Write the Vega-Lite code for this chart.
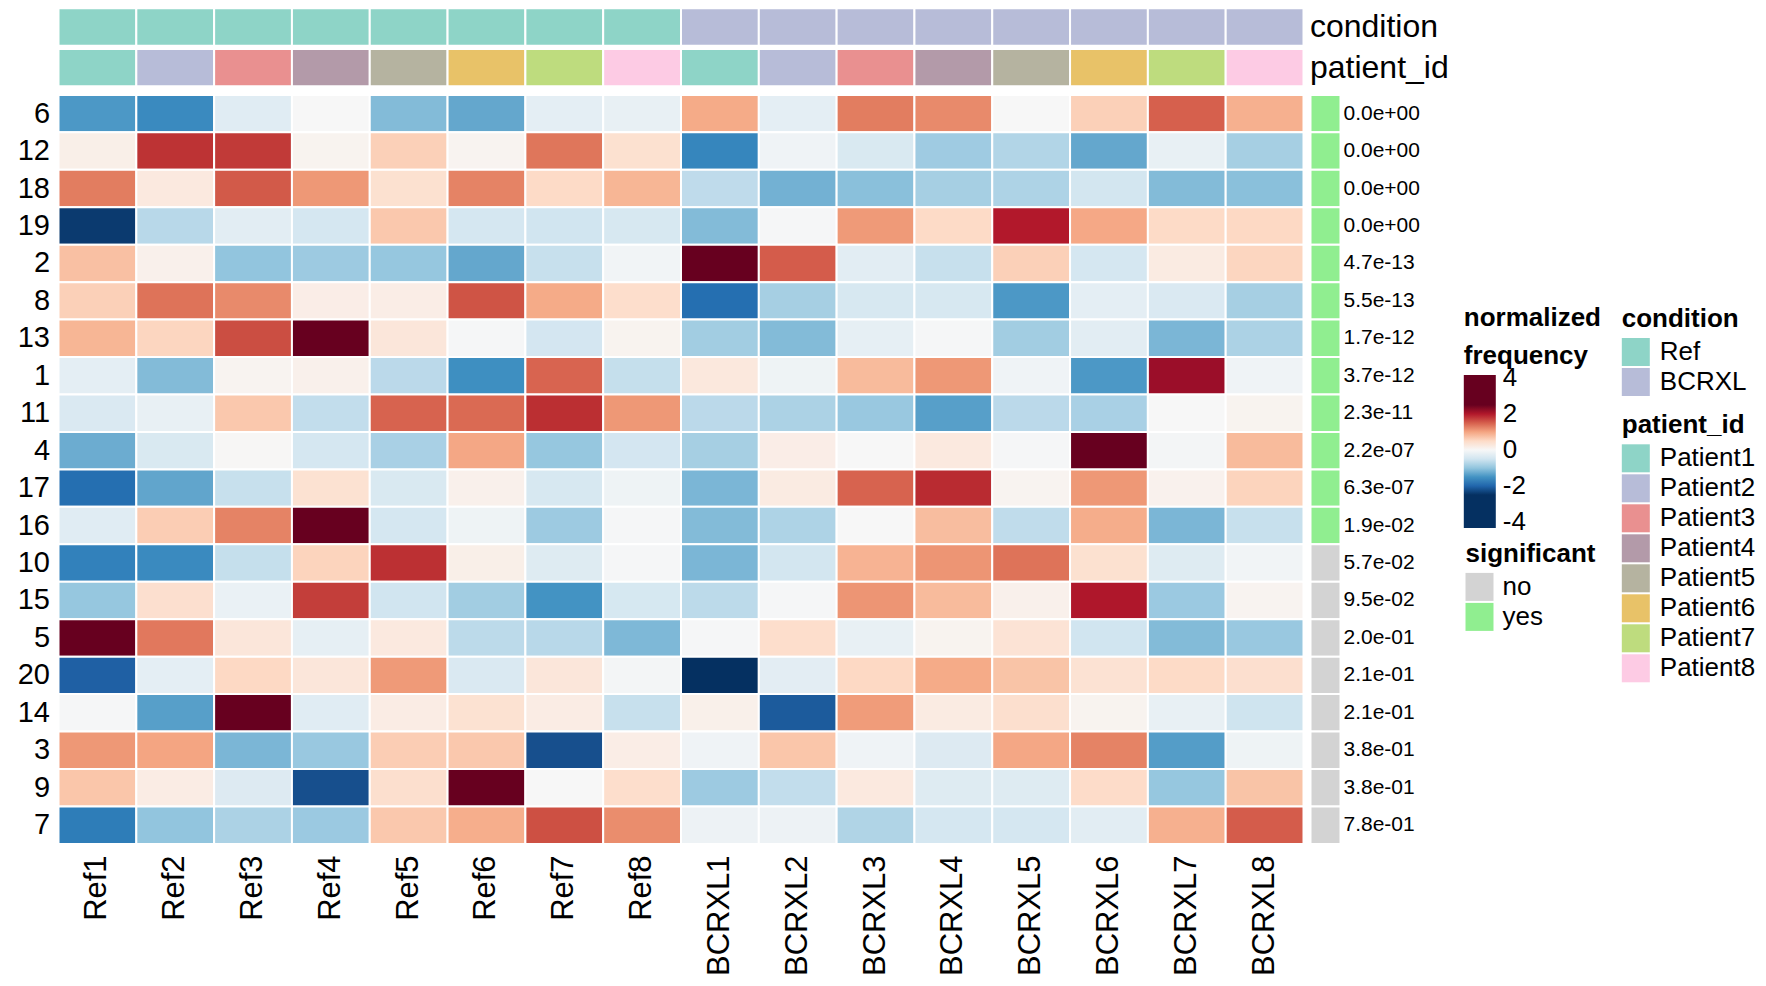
{
  "$schema": "https://vega.github.io/schema/vega-lite/v6.json",
  "background": "white",
  "padding": {"left": 16.5, "top": 7.3, "right": 5, "bottom": 5},
  "config": {
    "font": "Liberation Sans",
    "view": {"stroke": null},
    "axis": {"domain": false, "ticks": false, "tickSize": 0, "grid": false, "labelColor": "#000000", "labelFont": "Liberation Sans"},
    "legend": {
      "titleFontSize": 26, "titleFontWeight": "bold", "titleColor": "#000000", "titleFont": "Liberation Sans",
      "labelFontSize": 26, "labelColor": "#000000", "labelFont": "Liberation Sans",
      "padding": 0, "titlePadding": 6, "symbolType": "square", "symbolSize": 784, "symbolStrokeWidth": 0,
      "symbolOpacity": 1, "labelOffset": 10, "rowPadding": 2, "labelLimit": 400, "titleLimit": 400
    }
  },
  "datasets": {
    "heat": [
      {"r":"6","s":"Ref1","v":-1.45},{"r":"6","s":"Ref2","v":-1.6},{"r":"6","s":"Ref3","v":-0.3},{"r":"6","s":"Ref4","v":0},{"r":"6","s":"Ref5","v":-1.1},{"r":"6","s":"Ref6","v":-1.3},{"r":"6","s":"Ref7","v":-0.25},{"r":"6","s":"Ref8","v":-0.2},{"r":"6","s":"BCRXL1","v":0.95},{"r":"6","s":"BCRXL2","v":-0.25},{"r":"6","s":"BCRXL3","v":1.3},{"r":"6","s":"BCRXL4","v":1.2},{"r":"6","s":"BCRXL5","v":0},{"r":"6","s":"BCRXL6","v":0.6},{"r":"6","s":"BCRXL7","v":1.5},{"r":"6","s":"BCRXL8","v":0.9},
      {"r":"12","s":"Ref1","v":0.15},{"r":"12","s":"Ref2","v":1.85},{"r":"12","s":"Ref3","v":1.8},{"r":"12","s":"Ref4","v":0.08},{"r":"12","s":"Ref5","v":0.6},{"r":"12","s":"Ref6","v":0.07},{"r":"12","s":"Ref7","v":1.35},{"r":"12","s":"Ref8","v":0.4},{"r":"12","s":"BCRXL1","v":-1.65},{"r":"12","s":"BCRXL2","v":-0.1},{"r":"12","s":"BCRXL3","v":-0.4},{"r":"12","s":"BCRXL4","v":-0.9},{"r":"12","s":"BCRXL5","v":-0.75},{"r":"12","s":"BCRXL6","v":-1.3},{"r":"12","s":"BCRXL7","v":-0.2},{"r":"12","s":"BCRXL8","v":-0.85},
      {"r":"18","s":"Ref1","v":1.3},{"r":"18","s":"Ref2","v":0.25},{"r":"18","s":"Ref3","v":1.55},{"r":"18","s":"Ref4","v":1.1},{"r":"18","s":"Ref5","v":0.4},{"r":"18","s":"Ref6","v":1.25},{"r":"18","s":"Ref7","v":0.5},{"r":"18","s":"Ref8","v":0.85},{"r":"18","s":"BCRXL1","v":-0.65},{"r":"18","s":"BCRXL2","v":-1.2},{"r":"18","s":"BCRXL3","v":-1.05},{"r":"18","s":"BCRXL4","v":-0.85},{"r":"18","s":"BCRXL5","v":-0.78},{"r":"18","s":"BCRXL6","v":-0.48},{"r":"18","s":"BCRXL7","v":-1.1},{"r":"18","s":"BCRXL8","v":-1.05},
      {"r":"19","s":"Ref1","v":-2.4},{"r":"19","s":"Ref2","v":-0.7},{"r":"19","s":"Ref3","v":-0.28},{"r":"19","s":"Ref4","v":-0.45},{"r":"19","s":"Ref5","v":0.68},{"r":"19","s":"Ref6","v":-0.45},{"r":"19","s":"Ref7","v":-0.5},{"r":"19","s":"Ref8","v":-0.42},{"r":"19","s":"BCRXL1","v":-1.1},{"r":"19","s":"BCRXL2","v":-0.02},{"r":"19","s":"BCRXL3","v":1.08},{"r":"19","s":"BCRXL4","v":0.5},{"r":"19","s":"BCRXL5","v":2.0},{"r":"19","s":"BCRXL6","v":0.97},{"r":"19","s":"BCRXL7","v":0.5},{"r":"19","s":"BCRXL8","v":0.52},
      {"r":"2","s":"Ref1","v":0.75},{"r":"2","s":"Ref2","v":0.12},{"r":"2","s":"Ref3","v":-1.0},{"r":"2","s":"Ref4","v":-0.92},{"r":"2","s":"Ref5","v":-0.97},{"r":"2","s":"Ref6","v":-1.3},{"r":"2","s":"Ref7","v":-0.58},{"r":"2","s":"Ref8","v":-0.08},{"r":"2","s":"BCRXL1","v":2.6},{"r":"2","s":"BCRXL2","v":1.53},{"r":"2","s":"BCRXL3","v":-0.28},{"r":"2","s":"BCRXL4","v":-0.58},{"r":"2","s":"BCRXL5","v":0.6},{"r":"2","s":"BCRXL6","v":-0.45},{"r":"2","s":"BCRXL7","v":0.22},{"r":"2","s":"BCRXL8","v":0.55},
      {"r":"8","s":"Ref1","v":0.6},{"r":"8","s":"Ref2","v":1.37},{"r":"8","s":"Ref3","v":1.2},{"r":"8","s":"Ref4","v":0.17},{"r":"8","s":"Ref5","v":0.18},{"r":"8","s":"Ref6","v":1.6},{"r":"8","s":"Ref7","v":0.95},{"r":"8","s":"Ref8","v":0.45},{"r":"8","s":"BCRXL1","v":-1.9},{"r":"8","s":"BCRXL2","v":-0.85},{"r":"8","s":"BCRXL3","v":-0.42},{"r":"8","s":"BCRXL4","v":-0.42},{"r":"8","s":"BCRXL5","v":-1.45},{"r":"8","s":"BCRXL6","v":-0.25},{"r":"8","s":"BCRXL7","v":-0.38},{"r":"8","s":"BCRXL8","v":-0.85},
      {"r":"13","s":"Ref1","v":0.85},{"r":"13","s":"Ref2","v":0.55},{"r":"13","s":"Ref3","v":1.65},{"r":"13","s":"Ref4","v":2.6},{"r":"13","s":"Ref5","v":0.3},{"r":"13","s":"Ref6","v":-0.03},{"r":"13","s":"Ref7","v":-0.46},{"r":"13","s":"Ref8","v":0.08},{"r":"13","s":"BCRXL1","v":-0.88},{"r":"13","s":"BCRXL2","v":-1.1},{"r":"13","s":"BCRXL3","v":-0.22},{"r":"13","s":"BCRXL4","v":-0.02},{"r":"13","s":"BCRXL5","v":-0.88},{"r":"13","s":"BCRXL6","v":-0.28},{"r":"13","s":"BCRXL7","v":-1.15},{"r":"13","s":"BCRXL8","v":-0.8},
      {"r":"1","s":"Ref1","v":-0.25},{"r":"1","s":"Ref2","v":-1.1},{"r":"1","s":"Ref3","v":0.07},{"r":"1","s":"Ref4","v":0.12},{"r":"1","s":"Ref5","v":-0.68},{"r":"1","s":"Ref6","v":-1.55},{"r":"1","s":"Ref7","v":1.47},{"r":"1","s":"Ref8","v":-0.6},{"r":"1","s":"BCRXL1","v":0.27},{"r":"1","s":"BCRXL2","v":-0.12},{"r":"1","s":"BCRXL3","v":0.8},{"r":"1","s":"BCRXL4","v":1.1},{"r":"1","s":"BCRXL5","v":-0.1},{"r":"1","s":"BCRXL6","v":-1.45},{"r":"1","s":"BCRXL7","v":2.15},{"r":"1","s":"BCRXL8","v":-0.1},
      {"r":"11","s":"Ref1","v":-0.38},{"r":"11","s":"Ref2","v":-0.2},{"r":"11","s":"Ref3","v":0.68},{"r":"11","s":"Ref4","v":-0.62},{"r":"11","s":"Ref5","v":1.48},{"r":"11","s":"Ref6","v":1.43},{"r":"11","s":"Ref7","v":1.88},{"r":"11","s":"Ref8","v":1.1},{"r":"11","s":"BCRXL1","v":-0.68},{"r":"11","s":"BCRXL2","v":-0.8},{"r":"11","s":"BCRXL3","v":-0.95},{"r":"11","s":"BCRXL4","v":-1.38},{"r":"11","s":"BCRXL5","v":-0.68},{"r":"11","s":"BCRXL6","v":-0.82},{"r":"11","s":"BCRXL7","v":0},{"r":"11","s":"BCRXL8","v":0.08},
      {"r":"4","s":"Ref1","v":-1.25},{"r":"4","s":"Ref2","v":-0.4},{"r":"4","s":"Ref3","v":0.02},{"r":"4","s":"Ref4","v":-0.45},{"r":"4","s":"Ref5","v":-0.82},{"r":"4","s":"Ref6","v":0.98},{"r":"4","s":"Ref7","v":-0.97},{"r":"4","s":"Ref8","v":-0.46},{"r":"4","s":"BCRXL1","v":-0.85},{"r":"4","s":"BCRXL2","v":0.17},{"r":"4","s":"BCRXL3","v":0},{"r":"4","s":"BCRXL4","v":0.25},{"r":"4","s":"BCRXL5","v":-0.02},{"r":"4","s":"BCRXL6","v":2.8},{"r":"4","s":"BCRXL7","v":-0.05},{"r":"4","s":"BCRXL8","v":0.8},
      {"r":"17","s":"Ref1","v":-1.9},{"r":"17","s":"Ref2","v":-1.32},{"r":"17","s":"Ref3","v":-0.58},{"r":"17","s":"Ref4","v":0.38},{"r":"17","s":"Ref5","v":-0.4},{"r":"17","s":"Ref6","v":0.12},{"r":"17","s":"Ref7","v":-0.42},{"r":"17","s":"Ref8","v":-0.12},{"r":"17","s":"BCRXL1","v":-1.15},{"r":"17","s":"BCRXL2","v":0.22},{"r":"17","s":"BCRXL3","v":1.48},{"r":"17","s":"BCRXL4","v":1.9},{"r":"17","s":"BCRXL5","v":0.07},{"r":"17","s":"BCRXL6","v":1.1},{"r":"17","s":"BCRXL7","v":0.1},{"r":"17","s":"BCRXL8","v":0.57},
      {"r":"16","s":"Ref1","v":-0.3},{"r":"16","s":"Ref2","v":0.63},{"r":"16","s":"Ref3","v":1.25},{"r":"16","s":"Ref4","v":2.8},{"r":"16","s":"Ref5","v":-0.45},{"r":"16","s":"Ref6","v":-0.12},{"r":"16","s":"Ref7","v":-0.92},{"r":"16","s":"Ref8","v":-0.03},{"r":"16","s":"BCRXL1","v":-1.1},{"r":"16","s":"BCRXL2","v":-0.78},{"r":"16","s":"BCRXL3","v":0},{"r":"16","s":"BCRXL4","v":0.78},{"r":"16","s":"BCRXL5","v":-0.64},{"r":"16","s":"BCRXL6","v":0.93},{"r":"16","s":"BCRXL7","v":-1.15},{"r":"16","s":"BCRXL8","v":-0.58},
      {"r":"10","s":"Ref1","v":-1.7},{"r":"10","s":"Ref2","v":-1.6},{"r":"10","s":"Ref3","v":-0.6},{"r":"10","s":"Ref4","v":0.57},{"r":"10","s":"Ref5","v":1.87},{"r":"10","s":"Ref6","v":0.15},{"r":"10","s":"Ref7","v":-0.33},{"r":"10","s":"Ref8","v":-0.03},{"r":"10","s":"BCRXL1","v":-1.15},{"r":"10","s":"BCRXL2","v":-0.47},{"r":"10","s":"BCRXL3","v":0.87},{"r":"10","s":"BCRXL4","v":1.12},{"r":"10","s":"BCRXL5","v":1.37},{"r":"10","s":"BCRXL6","v":0.4},{"r":"10","s":"BCRXL7","v":-0.33},{"r":"10","s":"BCRXL8","v":-0.08},
      {"r":"15","s":"Ref1","v":-0.97},{"r":"15","s":"Ref2","v":0.42},{"r":"15","s":"Ref3","v":-0.17},{"r":"15","s":"Ref4","v":1.77},{"r":"15","s":"Ref5","v":-0.5},{"r":"15","s":"Ref6","v":-0.88},{"r":"15","s":"Ref7","v":-1.5},{"r":"15","s":"Ref8","v":-0.43},{"r":"15","s":"BCRXL1","v":-0.67},{"r":"15","s":"BCRXL2","v":-0.03},{"r":"15","s":"BCRXL3","v":1.12},{"r":"15","s":"BCRXL4","v":0.8},{"r":"15","s":"BCRXL5","v":0.12},{"r":"15","s":"BCRXL6","v":2.02},{"r":"15","s":"BCRXL7","v":-0.93},{"r":"15","s":"BCRXL8","v":0.07},
      {"r":"5","s":"Ref1","v":2.8},{"r":"5","s":"Ref2","v":1.33},{"r":"5","s":"Ref3","v":0.3},{"r":"5","s":"Ref4","v":-0.22},{"r":"5","s":"Ref5","v":0.25},{"r":"5","s":"Ref6","v":-0.67},{"r":"5","s":"Ref7","v":-0.7},{"r":"5","s":"Ref8","v":-1.13},{"r":"5","s":"BCRXL1","v":-0.03},{"r":"5","s":"BCRXL2","v":0.45},{"r":"5","s":"BCRXL3","v":-0.2},{"r":"5","s":"BCRXL4","v":0.08},{"r":"5","s":"BCRXL5","v":0.35},{"r":"5","s":"BCRXL6","v":-0.5},{"r":"5","s":"BCRXL7","v":-1.1},{"r":"5","s":"BCRXL8","v":-0.95},
      {"r":"20","s":"Ref1","v":-2.05},{"r":"20","s":"Ref2","v":-0.25},{"r":"20","s":"Ref3","v":0.52},{"r":"20","s":"Ref4","v":0.3},{"r":"20","s":"Ref5","v":1.08},{"r":"20","s":"Ref6","v":-0.38},{"r":"20","s":"Ref7","v":0.3},{"r":"20","s":"Ref8","v":-0.05},{"r":"20","s":"BCRXL1","v":-2.8},{"r":"20","s":"BCRXL2","v":-0.27},{"r":"20","s":"BCRXL3","v":0.52},{"r":"20","s":"BCRXL4","v":0.95},{"r":"20","s":"BCRXL5","v":0.72},{"r":"20","s":"BCRXL6","v":0.37},{"r":"20","s":"BCRXL7","v":0.5},{"r":"20","s":"BCRXL8","v":0.42},
      {"r":"14","s":"Ref1","v":-0.03},{"r":"14","s":"Ref2","v":-1.38},{"r":"14","s":"Ref3","v":2.8},{"r":"14","s":"Ref4","v":-0.3},{"r":"14","s":"Ref5","v":0.2},{"r":"14","s":"Ref6","v":0.38},{"r":"14","s":"Ref7","v":0.2},{"r":"14","s":"Ref8","v":-0.58},{"r":"14","s":"BCRXL1","v":0.13},{"r":"14","s":"BCRXL2","v":-2.1},{"r":"14","s":"BCRXL3","v":1.07},{"r":"14","s":"BCRXL4","v":0.22},{"r":"14","s":"BCRXL5","v":0.43},{"r":"14","s":"BCRXL6","v":0.08},{"r":"14","s":"BCRXL7","v":-0.2},{"r":"14","s":"BCRXL8","v":-0.52},
      {"r":"3","s":"Ref1","v":1.1},{"r":"3","s":"Ref2","v":1.0},{"r":"3","s":"Ref3","v":-1.15},{"r":"3","s":"Ref4","v":-0.95},{"r":"3","s":"Ref5","v":0.63},{"r":"3","s":"Ref6","v":0.68},{"r":"3","s":"Ref7","v":-2.2},{"r":"3","s":"Ref8","v":0.18},{"r":"3","s":"BCRXL1","v":-0.1},{"r":"3","s":"BCRXL2","v":0.7},{"r":"3","s":"BCRXL3","v":-0.1},{"r":"3","s":"BCRXL4","v":-0.35},{"r":"3","s":"BCRXL5","v":0.98},{"r":"3","s":"BCRXL6","v":1.25},{"r":"3","s":"BCRXL7","v":-1.4},{"r":"3","s":"BCRXL8","v":-0.12},
      {"r":"9","s":"Ref1","v":0.7},{"r":"9","s":"Ref2","v":0.2},{"r":"9","s":"Ref3","v":-0.35},{"r":"9","s":"Ref4","v":-2.2},{"r":"9","s":"Ref5","v":0.43},{"r":"9","s":"Ref6","v":2.6},{"r":"9","s":"Ref7","v":0},{"r":"9","s":"Ref8","v":0.45},{"r":"9","s":"BCRXL1","v":-0.92},{"r":"9","s":"BCRXL2","v":-0.62},{"r":"9","s":"BCRXL3","v":0.25},{"r":"9","s":"BCRXL4","v":-0.33},{"r":"9","s":"BCRXL5","v":-0.33},{"r":"9","s":"BCRXL6","v":0.48},{"r":"9","s":"BCRXL7","v":-0.97},{"r":"9","s":"BCRXL8","v":0.72},
      {"r":"7","s":"Ref1","v":-1.75},{"r":"7","s":"Ref2","v":-1.0},{"r":"7","s":"Ref3","v":-0.8},{"r":"7","s":"Ref4","v":-0.93},{"r":"7","s":"Ref5","v":0.68},{"r":"7","s":"Ref6","v":0.92},{"r":"7","s":"Ref7","v":1.63},{"r":"7","s":"Ref8","v":1.18},{"r":"7","s":"BCRXL1","v":-0.13},{"r":"7","s":"BCRXL2","v":-0.13},{"r":"7","s":"BCRXL3","v":-0.77},{"r":"7","s":"BCRXL4","v":-0.45},{"r":"7","s":"BCRXL5","v":-0.45},{"r":"7","s":"BCRXL6","v":-0.28},{"r":"7","s":"BCRXL7","v":0.9},{"r":"7","s":"BCRXL8","v":1.53}
    ],
    "annot": [
      {"s":"Ref1","condition":"Ref","patient_id":"Patient1"},
      {"s":"Ref2","condition":"Ref","patient_id":"Patient2"},
      {"s":"Ref3","condition":"Ref","patient_id":"Patient3"},
      {"s":"Ref4","condition":"Ref","patient_id":"Patient4"},
      {"s":"Ref5","condition":"Ref","patient_id":"Patient5"},
      {"s":"Ref6","condition":"Ref","patient_id":"Patient6"},
      {"s":"Ref7","condition":"Ref","patient_id":"Patient7"},
      {"s":"Ref8","condition":"Ref","patient_id":"Patient8"},
      {"s":"BCRXL1","condition":"BCRXL","patient_id":"Patient1"},
      {"s":"BCRXL2","condition":"BCRXL","patient_id":"Patient2"},
      {"s":"BCRXL3","condition":"BCRXL","patient_id":"Patient3"},
      {"s":"BCRXL4","condition":"BCRXL","patient_id":"Patient4"},
      {"s":"BCRXL5","condition":"BCRXL","patient_id":"Patient5"},
      {"s":"BCRXL6","condition":"BCRXL","patient_id":"Patient6"},
      {"s":"BCRXL7","condition":"BCRXL","patient_id":"Patient7"},
      {"s":"BCRXL8","condition":"BCRXL","patient_id":"Patient8"}
    ],
    "sig": [
      {"r":"6","k":"sig","p":"0.0e+00","significant":"yes"},
      {"r":"12","k":"sig","p":"0.0e+00","significant":"yes"},
      {"r":"18","k":"sig","p":"0.0e+00","significant":"yes"},
      {"r":"19","k":"sig","p":"0.0e+00","significant":"yes"},
      {"r":"2","k":"sig","p":"4.7e-13","significant":"yes"},
      {"r":"8","k":"sig","p":"5.5e-13","significant":"yes"},
      {"r":"13","k":"sig","p":"1.7e-12","significant":"yes"},
      {"r":"1","k":"sig","p":"3.7e-12","significant":"yes"},
      {"r":"11","k":"sig","p":"2.3e-11","significant":"yes"},
      {"r":"4","k":"sig","p":"2.2e-07","significant":"yes"},
      {"r":"17","k":"sig","p":"6.3e-07","significant":"yes"},
      {"r":"16","k":"sig","p":"1.9e-02","significant":"yes"},
      {"r":"10","k":"sig","p":"5.7e-02","significant":"no"},
      {"r":"15","k":"sig","p":"9.5e-02","significant":"no"},
      {"r":"5","k":"sig","p":"2.0e-01","significant":"no"},
      {"r":"20","k":"sig","p":"2.1e-01","significant":"no"},
      {"r":"14","k":"sig","p":"2.1e-01","significant":"no"},
      {"r":"3","k":"sig","p":"3.8e-01","significant":"no"},
      {"r":"9","k":"sig","p":"3.8e-01","significant":"no"},
      {"r":"7","k":"sig","p":"7.8e-01","significant":"no"}
    ]
  },
  "columns": 2,
  "spacing": {"row": 8.6, "column": 7},
  "bounds": "flush",
  "align": "each",
  "resolve": {
    "scale": {"x": "independent", "y": "independent", "color": "independent"},
    "legend": {"color": "independent"}
  },
  "concat": [
    {
      "width": 1245,
      "height": 78,
      "data": {"name": "annot"},
      "layer": [
        {
          "mark": {"type": "rect", "stroke": "white", "strokeWidth": 2},
          "encoding": {
            "x": {"field": "s", "type": "nominal", "sort": ["Ref1","Ref2","Ref3","Ref4","Ref5","Ref6","Ref7","Ref8","BCRXL1","BCRXL2","BCRXL3","BCRXL4","BCRXL5","BCRXL6","BCRXL7","BCRXL8"], "scale": {"paddingInner": 0, "paddingOuter": 0}, "axis": null},
            "y": {"datum": "condition", "type": "nominal", "scale": {"domain": ["condition", "patient_id"], "paddingInner": 0.08, "paddingOuter": 0}, "axis": {"orient": "right", "title": null, "labelFontSize": 32, "labelPadding": 6, "labelColor": "#000000"}},
            "color": {"field": "condition", "type": "nominal", "scale": {"domain": ["Ref", "BCRXL"], "range": ["#8ED4C7", "#B7BCD8"]}, "legend": {"title": "condition", "orient": "none", "legendX": 1563.3, "legendY": 297.7}}
          }
        },
        {
          "mark": {"type": "rect", "stroke": "white", "strokeWidth": 2},
          "encoding": {
            "x": {"field": "s", "type": "nominal", "sort": ["Ref1","Ref2","Ref3","Ref4","Ref5","Ref6","Ref7","Ref8","BCRXL1","BCRXL2","BCRXL3","BCRXL4","BCRXL5","BCRXL6","BCRXL7","BCRXL8"], "axis": null},
            "y": {"datum": "patient_id", "type": "nominal"},
            "color": {"field": "patient_id", "type": "nominal", "scale": {"domain": ["Patient1","Patient2","Patient3","Patient4","Patient5","Patient6","Patient7","Patient8"], "range": ["#8ED4C7","#B7BCD8","#E99090","#B39AA9","#B5B3A0","#E8C268","#BEDC7E","#FDCBE4"]}, "legend": {"title": "patient_id", "orient": "none", "legendX": 1563.3, "legendY": 404}}
          }
        }
      ],
      "resolve": {"scale": {"color": "independent"}, "legend": {"color": "independent"}}
    },
    {
      "width": 30,
      "height": 10,
      "data": {"values": [{"a": 1}]},
      "mark": {"type": "point", "opacity": 0},
      "encoding": {}
    },
    {
      "width": 1245,
      "height": 749,
      "data": {"name": "heat"},
      "mark": {"type": "rect", "stroke": "white", "strokeWidth": 2},
      "encoding": {
        "x": {"field": "s", "type": "nominal", "sort": ["Ref1","Ref2","Ref3","Ref4","Ref5","Ref6","Ref7","Ref8","BCRXL1","BCRXL2","BCRXL3","BCRXL4","BCRXL5","BCRXL6","BCRXL7","BCRXL8"], "scale": {"paddingInner": 0, "paddingOuter": 0}, "axis": {"orient": "bottom", "title": null, "labelAngle": -90, "labelFontSize": 31, "labelPadding": 11}},
        "y": {"field": "r", "type": "nominal", "sort": ["6","12","18","19","2","8","13","1","11","4","17","16","10","15","5","20","14","3","9","7"], "scale": {"paddingInner": 0, "paddingOuter": 0}, "axis": {"title": null, "labelFontSize": 29, "labelPadding": 9, "labelAngle": 0}},
        "color": {
          "field": "v", "type": "quantitative",
          "scale": {"domain": [-4.33, -2.5, -2, -1.5, -1, -0.5, 0, 0.5, 1, 1.5, 2, 2.5, 4.17], "range": ["#053061","#053061","#2166ac","#4393c3","#92c5de","#d1e5f0","#f7f7f7","#fddbc7","#f4a582","#d6604d","#b2182b","#67001f","#67001f"], "clamp": true},
          "legend": {"title": ["normalized", "frequency"], "orient": "none", "legendX": 1405.3, "legendY": 210, "direction": "vertical", "gradientLength": 153, "gradientThickness": 32, "gradientStrokeWidth": 0, "values": [-4, -2, 0, 2, 4], "labelExpr": "datum.value < 0 ? '-' + abs(datum.value) : '' + datum.value", "labelOffset": 7, "titleLineHeight": 38, "labelOverlap": false}
        }
      }
    },
    {
      "width": 30,
      "height": 749,
      "data": {"name": "sig"},
      "encoding": {
        "x": {"field": "k", "type": "nominal", "scale": {"paddingInner": 0, "paddingOuter": 0}, "axis": null},
        "y": {"field": "r", "type": "nominal", "sort": ["6","12","18","19","2","8","13","1","11","4","17","16","10","15","5","20","14","3","9","7"], "scale": {"paddingInner": 0, "paddingOuter": 0}, "axis": null}
      },
      "layer": [
        {
          "mark": {"type": "rect", "stroke": "white", "strokeWidth": 2},
          "encoding": {
            "color": {"field": "significant", "type": "nominal", "scale": {"domain": ["no", "yes"], "range": ["#D3D3D3", "#90EE90"]}, "legend": {"title": "significant", "orient": "none", "legendX": 155, "legendY": 446, "labelOffset": 9}}
          }
        },
        {
          "mark": {"type": "text", "align": "left", "baseline": "middle", "dx": 18, "fontSize": 21, "color": "#000000", "font": "Liberation Sans"},
          "encoding": {"text": {"field": "p", "type": "nominal"}}
        }
      ]
    }
  ]
}
